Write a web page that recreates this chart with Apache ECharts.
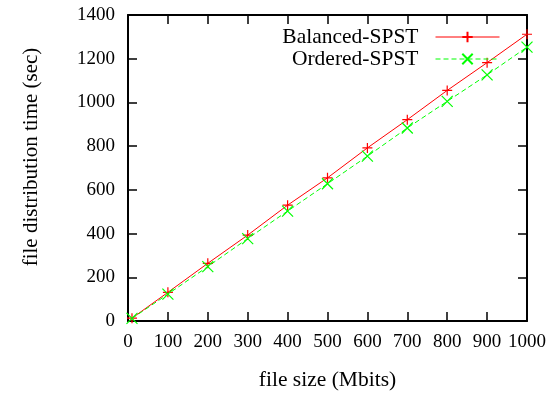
<!DOCTYPE html>
<html>
<head>
<meta charset="utf-8">
<script src="https://cdn.jsdelivr.net/npm/echarts@6/dist/echarts.min.js"></script>
<style>
  html, body { margin: 0; padding: 0; background: #fff; }
  #chart { width: 558px; height: 396px; }
</style>
</head>
<body>
<div id="chart"></div>
<script>
// 数据
var fileSizes = [10, 100, 200, 300, 400, 500, 600, 700, 800, 900, 1000];
var balancedTimes = [13, 131, 264, 393, 530, 655, 792, 921, 1055, 1182, 1312];
var orderedTimes = [12, 123, 249, 377, 503, 628, 754, 883, 1005, 1126, 1253];
var seriesNames = ['Balanced-SPST', 'Ordered-SPST'];

var plusPath = 'path://M6,0L6,12M0,6L12,6';
var crossPath = 'path://M0,0L12,12M12,0L0,12';
var fontFamily = '"Liberation Serif", "DejaVu Serif", serif';

function pairs(xs, ys) {
	var out = [];
	for (var i = 0; i < xs.length; i++) {
		out.push([xs[i], ys[i]]);
	}
	return out;
}

// 刻度标签不要千分位
function plainNum(v) {
	return String(v);
}

var chart = echarts.init(document.getElementById('chart'), null, { renderer: 'canvas' });

var axisCommon = {
	axisLine: { show: true, onZero: false, lineStyle: { color: '#000', width: 2 } },
	axisTick: { show: true, inside: true, length: 9, lineStyle: { color: '#000', width: 1.5 } },
	splitLine: { show: false }
};

chart.setOption({
	animation: false,
	textStyle: { fontFamily: fontFamily },
	grid: { left: 128, right: 31, top: 15, bottom: 74, containLabel: false },
	legend: {
		orient: 'vertical',
		right: 58,
		top: 26,
		padding: 0,
		align: 'right',
		itemWidth: 64,
		itemHeight: 13,
		itemGap: 0,
		data: seriesNames,
		lineStyle: { width: 1 },
		textStyle: { fontFamily: fontFamily, fontSize: 21.5, lineHeight: 22, color: '#000', padding: [0, 12, 0, 0] }
	},
	xAxis: [
		Object.assign({
			type: 'value',
			min: 0,
			max: 1000,
			interval: 100,
			name: 'file size (Mbits)',
			nameLocation: 'middle',
			nameGap: 48,
			nameTextStyle: { fontFamily: fontFamily, fontSize: 21.5, color: '#000' },
			axisLabel: { fontFamily: fontFamily, fontSize: 19, color: '#000', margin: 12, formatter: plainNum }
		}, axisCommon),
		Object.assign({
			type: 'value',
			position: 'top',
			min: 0,
			max: 1000,
			interval: 100,
			axisLabel: { show: false }
		}, axisCommon)
	],
	yAxis: [
		Object.assign({
			type: 'value',
			min: 0,
			max: 1400,
			interval: 200,
			name: 'file distribution time (sec)',
			nameLocation: 'middle',
			nameGap: 86,
			nameTextStyle: { fontFamily: fontFamily, fontSize: 21, color: '#000', padding: [0, 0, 0, 22] },
			axisLabel: { fontFamily: fontFamily, fontSize: 19, color: '#000', margin: 13, formatter: plainNum }
		}, axisCommon),
		Object.assign({
			type: 'value',
			position: 'right',
			min: 0,
			max: 1400,
			interval: 200,
			axisLabel: { show: false }
		}, axisCommon)
	],
	series: [
		{
			name: seriesNames[0],
			type: 'line',
			data: pairs(fileSizes, balancedTimes),
			symbol: plusPath,
			symbolSize: 10,
			showAllSymbol: true,
			lineStyle: { color: '#ff0000', width: 1 },
			itemStyle: { color: '#ff0000', borderColor: '#ff0000', borderWidth: 1.2 }
		},
		{
			name: seriesNames[1],
			type: 'line',
			data: pairs(fileSizes, orderedTimes),
			symbol: crossPath,
			symbolSize: 11,
			showAllSymbol: true,
			lineStyle: { color: '#00ff00', width: 1, type: [5, 3] },
			itemStyle: { color: '#00ff00', borderColor: '#00ff00', borderWidth: 1.2 }
		}
	]
});
</script>
</body>
</html>
